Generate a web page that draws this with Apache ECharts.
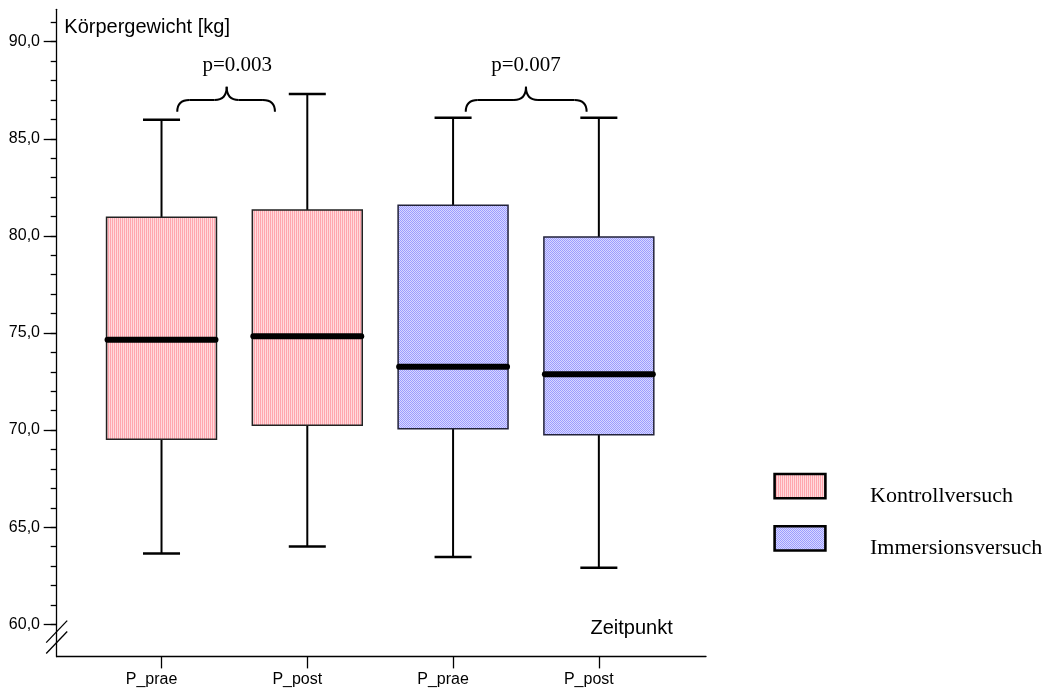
<!DOCTYPE html>
<html>
<head>
<meta charset="utf-8">
<script src="https://cdn.jsdelivr.net/npm/echarts@6/dist/echarts.min.js"></script>
<style>
html,body{margin:0;padding:0;background:#fff;}
#chart{width:1060px;height:690px;}
</style>
</head>
<body>
<div id="chart"></div>
<script>
// ---------------- data ----------------
const categories = ['P_prae', 'P_post', 'P_prae', 'P_post'];
const seriesNames = ['Kontrollversuch', 'Immersionsversuch'];
// each box: [min, Q1, median, Q3, max]  (Körpergewicht in kg)
const kontrollBoxes = [
  [63.64, 69.53, 74.65, 80.96, 85.98],
  [64.00, 70.25, 74.83, 81.33, 87.31]
];
const immersionBoxes = [
  [63.46, 70.07, 73.26, 81.58, 86.09],
  [62.91, 69.76, 72.87, 79.94, 86.09]
];
const kontrollSlots = [1, 2];
const immersionSlots = [3, 4];
const yMajorTicks = [60, 65, 70, 75, 80, 85, 90];
const yMinorTicks = [60, 61, 62, 63, 64, 65, 66, 67, 68, 69, 70, 71, 72, 73, 74, 75, 76, 77, 78, 79, 80, 81, 82, 83, 84, 85, 86, 87, 88, 89, 90, 91];
const pValueLabels = ['p=0.003', 'p=0.007'];
const yAxisTitle = 'Körpergewicht [kg]';
const xAxisTitle = 'Zeitpunkt';

// ---------------- layout / style constants ----------------
const X_MIN = 0.281, X_MAX = 4.735;
const Y_MIN = 58.33, Y_MAX = 91.67;
const BOX_FRAC = 0.754, CAP_FRAC = 0.254;
// brace anchors (axis units): [left, right, cusp, labelX]
const braceAnchors = [[1.108, 1.778, 1.447, 1.52], [3.087, 3.916, 3.50, 3.50]];
const BRACE_END_Y = 86.4, BRACE_MID_Y = 87.0, BRACE_TOP_Y = 87.68, BRACE_LABEL_Y = 88.77;
const BREAK_Y = [59.62, 59.06];
const LEGEND_BOX = { left: 774.6, top: 474, width: 50.8, height: 24.2, pitch: 52.3 };
const LEGEND_TEXT = { left: 870, middle: 495.9 };

function makePattern(w, h, draw) {
  const c = document.createElement('canvas');
  c.width = w; c.height = h;
  draw(c.getContext('2d'));
  return { image: c, repeat: 'repeat' };
}
const pinkPattern = makePattern(2, 1, ctx => {
  ctx.fillStyle = '#ffa6ae'; ctx.fillRect(0, 0, 1, 1);
  ctx.fillStyle = '#ffdadd'; ctx.fillRect(1, 0, 1, 1);
});
const bluePattern = makePattern(2, 2, ctx => {
  ctx.fillStyle = '#9c9cff'; ctx.fillRect(0, 0, 2, 2);
  ctx.fillStyle = '#d8d8ff'; ctx.fillRect(1, 0, 1, 1); ctx.fillRect(0, 1, 1, 1);
});
const seriesFills = [pinkPattern, bluePattern];

function buildData(slots, boxes) {
  return slots.map((s, i) => [s].concat(boxes[i]));
}

function boxRenderer(fill, border) {
  return function (params, api) {
    const x = api.value(0);
    const pMin = api.coord([x, api.value(1)]);
    const cx = pMin[0];
    const yMin = pMin[1];
    const yQ1 = api.coord([x, api.value(2)])[1];
    const yMed = api.coord([x, api.value(3)])[1];
    const yQ3 = api.coord([x, api.value(4)])[1];
    const yMax = api.coord([x, api.value(5)])[1];
    const unit = api.size([1, 0])[0];
    const bw = unit * BOX_FRAC, cw = unit * CAP_FRAC;
    const ls = { stroke: '#000', lineWidth: 2 };
    const cs = { stroke: '#000', lineWidth: 2.5 };
    return {
      type: 'group',
      children: [
        { type: 'line', shape: { x1: cx, y1: yQ3, x2: cx, y2: yMax }, style: ls },
        { type: 'line', shape: { x1: cx - cw / 2, y1: yMax, x2: cx + cw / 2, y2: yMax }, style: cs },
        { type: 'line', shape: { x1: cx, y1: yQ1, x2: cx, y2: yMin }, style: ls },
        { type: 'line', shape: { x1: cx - cw / 2, y1: yMin, x2: cx + cw / 2, y2: yMin }, style: cs },
        { type: 'rect', shape: { x: cx - bw / 2, y: yQ3, width: bw, height: yQ1 - yQ3 },
          style: { fill: fill, stroke: border, lineWidth: 1.5 } },
        { type: 'line', shape: { x1: cx - bw / 2 + 1, y1: yMed, x2: cx + bw / 2 - 1, y2: yMed },
          style: { stroke: '#000', lineWidth: 6, lineCap: 'round' } }
      ]
    };
  };
}

const axisFont = { fontFamily: 'Liberation Sans', fontSize: 16, color: '#000' };
const blackLine = { color: '#000', width: 1.3 };

const chart = echarts.init(document.getElementById('chart'), null, { renderer: 'canvas' });

const option = {
  animation: false,
  backgroundColor: '#fff',
  grid: { left: 56.7, top: 9.3, right: 1060 - 706, bottom: 33.3 },
  xAxis: {
    type: 'value', min: X_MIN, max: X_MAX,
    axisLine: { show: true, onZero: false, lineStyle: blackLine },
    axisTick: { show: true, customValues: [1, 2, 3, 4], length: 11.7, lineStyle: blackLine },
    axisLabel: Object.assign({
      customValues: [1, 2, 3, 4],
      formatter: v => categories[Math.round(v) - 1],
      margin: 15, padding: [0, 20, 0, 0]
    }, axisFont),
    splitLine: { show: false }
  },
  yAxis: [
    {
      type: 'value', min: Y_MIN, max: Y_MAX, position: 'left',
      axisLine: { show: true, onZero: false, lineStyle: blackLine },
      axisTick: { show: true, customValues: yMinorTicks, length: 6, lineStyle: blackLine },
      axisLabel: { show: false },
      splitLine: { show: false }
    },
    {
      type: 'value', min: Y_MIN, max: Y_MAX, position: 'left', offset: 0,
      axisLine: { show: false },
      axisTick: { show: true, customValues: yMajorTicks, length: 13, lineStyle: blackLine },
      axisLabel: Object.assign({
        customValues: yMajorTicks,
        formatter: v => v.toFixed(1).replace('.', ','),
        margin: 16.7
      }, axisFont),
      splitLine: { show: false }
    }
  ],
  series: [
    {
      name: seriesNames[0], type: 'custom', xAxisIndex: 0, yAxisIndex: 0, clip: false,
      itemStyle: { color: pinkPattern },
      encode: { x: 0, y: [1, 2, 3, 4, 5] },
      renderItem: boxRenderer(pinkPattern, '#222'),
      data: buildData(kontrollSlots, kontrollBoxes)
    },
    {
      name: seriesNames[1], type: 'custom', xAxisIndex: 0, yAxisIndex: 0, clip: false,
      itemStyle: { color: bluePattern },
      encode: { x: 0, y: [1, 2, 3, 4, 5] },
      renderItem: boxRenderer(bluePattern, '#22223a'),
      data: buildData(immersionSlots, immersionBoxes)
    }
  ]
};
chart.setOption(option);

// ---------------- annotations (positioned through the axes) ----------------
function px(x, y) { return chart.convertToPixel({ xAxisIndex: 0, yAxisIndex: 0 }, [x, y]); }
const graphics = [];
const braceStyle = { stroke: '#000', lineWidth: 2, fill: null };
braceAnchors.forEach((b, i) => {
  const L = px(b[0], BRACE_END_Y), R = px(b[1], BRACE_END_Y);
  const yMid = px(b[0], BRACE_MID_Y)[1];
  const top = px(b[2], BRACE_TOP_Y);
  const r = 12;
  const xl = L[0], xr = R[0], xc = top[0], yEnd = L[1], yTop = top[1];
  graphics.push(
    { type: 'bezierCurve', shape: { x1: xl, y1: yEnd, cpx1: xl, cpy1: yMid, x2: xl + r, y2: yMid }, style: braceStyle },
    { type: 'line', shape: { x1: xl + r, y1: yMid, x2: xc - r, y2: yMid }, style: braceStyle },
    { type: 'bezierCurve', shape: { x1: xc - r, y1: yMid, cpx1: xc, cpy1: yMid, x2: xc, y2: yTop }, style: braceStyle },
    { type: 'bezierCurve', shape: { x1: xc, y1: yTop, cpx1: xc, cpy1: yMid, x2: xc + r, y2: yMid }, style: braceStyle },
    { type: 'line', shape: { x1: xc + r, y1: yMid, x2: xr - r, y2: yMid }, style: braceStyle },
    { type: 'bezierCurve', shape: { x1: xr - r, y1: yMid, cpx1: xr, cpy1: yMid, x2: xr, y2: yEnd }, style: braceStyle }
  );
  const lp = px(b[3], BRACE_LABEL_Y);
  graphics.push({
    type: 'text', x: lp[0], y: lp[1],
    style: { text: pValueLabels[i], fontFamily: 'Liberation Serif', fontSize: 21, fill: '#000', align: 'center', verticalAlign: 'middle' }
  });
});
BREAK_Y.forEach(v => {
  const p = px(X_MIN, v);
  graphics.push({ type: 'line', shape: { x1: p[0] - 10.5, y1: p[1] + 11, x2: p[0] + 10.5, y2: p[1] - 11 },
    style: { stroke: '#000', lineWidth: 1.3 } });
});
graphics.push({
  type: 'text', left: 64.3, top: 17.4,
  style: { text: yAxisTitle, fontFamily: 'Liberation Sans', fontSize: 20, fill: '#000' }
});
graphics.push({
  type: 'text', left: 590.5, top: 618.1,
  style: { text: xAxisTitle, fontFamily: 'Liberation Sans', fontSize: 20, fill: '#000' }
});
// legend
seriesNames.forEach((name, i) => {
  graphics.push({
    type: 'rect',
    shape: { x: LEGEND_BOX.left, y: LEGEND_BOX.top + i * LEGEND_BOX.pitch, width: LEGEND_BOX.width, height: LEGEND_BOX.height },
    style: { fill: seriesFills[i], stroke: '#000', lineWidth: 2.6 }
  });
  graphics.push({
    type: 'text', x: LEGEND_TEXT.left, y: LEGEND_TEXT.middle + i * LEGEND_BOX.pitch,
    style: { text: name, fontFamily: 'Liberation Serif', fontSize: 22, fill: '#000', align: 'left', verticalAlign: 'middle' }
  });
});
chart.setOption({ graphic: graphics });
</script>
</body>
</html>
